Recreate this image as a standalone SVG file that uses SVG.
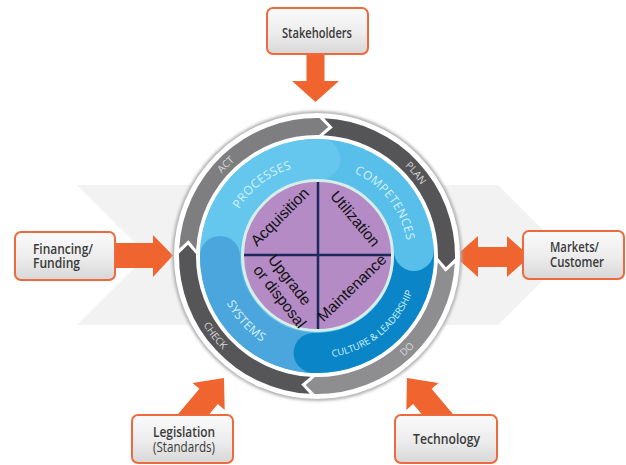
<svg xmlns="http://www.w3.org/2000/svg" xmlns:xlink="http://www.w3.org/1999/xlink" width="626" height="465" viewBox="0 0 626 465">
  <style>
    .box { fill: url(#boxFill); stroke: #ee6a3c; stroke-width: 2; }
    .lbl { font-family: "Open Sans", "Liberation Sans", sans-serif; font-size: 14px; font-weight: 600; fill: #3a3a3a; }
    .lbl.reg { font-weight: 400; }
    .arrow { fill: #f0642f; }
    .zone { font-family: "Open Sans", "Liberation Sans", sans-serif; font-size: 12px; fill: #d6f2fc; letter-spacing: 0.4px; }
    .zone.small { font-size: 9.5px; letter-spacing: 0; }
    .phase { font-family: "Open Sans", "Liberation Sans", sans-serif; font-size: 10px; fill: #d8d8d8; }
    .stage { font-family: "Liberation Sans", Arial, sans-serif; font-size: 15.5px; fill: #111; text-anchor: middle; }
  </style>
  <defs>
    <linearGradient id="boxFill" x1="0" y1="0" x2="0" y2="1">
      <stop offset="0" stop-color="#fbfbfb"/>
      <stop offset="0.55" stop-color="#ececec"/>
      <stop offset="1" stop-color="#d7d7d7"/>
    </linearGradient>
    <filter id="soft" x="-10%" y="-10%" width="120%" height="120%">
      <feGaussianBlur stdDeviation="1.5"/>
    </filter>
    <!-- one quarter of the cycle ring, origin-centred, pointing clockwise -->
    <path id="seg" d="M137.98,2.41 A138,138 0 0 1 2.41,137.98 L-6.78,129.32 L2.11,120.98 A121,121 0 0 0 120.98,2.11 L129.01,11.29 Z"/>
    <path id="pProc" d="M228.16,236.30 A91,91 0 0 1 320.97,165.09"/>
    <path id="pComp" d="M336.31,167.07 A91,91 0 0 1 407.93,259.57"/>
    <path id="pSys" d="M215.10,260.45 A102,102 0 0 0 303.69,357.13"/>
    <path id="pCult" d="M306.34,357.44 A102,102 0 0 0 418.44,266.66"/>
    <path id="pAct" d="M195.29,223.39 A126,126 0 0 1 284.39,134.29"/>
    <path id="pPlan" d="M360.09,137.60 A126,126 0 0 1 441.09,234.12"/>
    <path id="pDo" d="M349.18,385.05 A133,133 0 0 0 444.85,292.66"/>
    <path id="pCheck" d="M185.29,274.51 A133,133 0 0 0 267.18,379.31"/>
  </defs>

  <rect width="626" height="465" fill="#ffffff"/>

  <!-- pale chevron band behind the cycle -->
  <polygon points="77,185 498,185 568,255 498,325 77,325 147,255" fill="#f2f2f2"/>

  <!-- connectors -->
  <g id="connectors">
    <polygon class="arrow" points="306.5,53 324.5,53 324.5,81 339,81 315.5,102 292,81 306.5,81"/>
    <polygon class="arrow" points="112,243 153,243 153,235 173,255.5 153,277 153,268 112,268"/>
    <polygon class="arrow" points="455,256.5 478,236 478,247 507,247 507,236 530,256.5 507,277 507,267 478,267 478,277"/>
    <polygon class="arrow" points="224,378 224.7,409.9 217.8,404.1 193.8,432.7 175.4,417.3 199.4,388.7 192.5,382.9"/>
    <polygon class="arrow" points="407,378 406.3,409.9 413.2,404.1 437.2,432.7 455.6,417.3 431.6,388.7 438.5,382.9"/>
  </g>

  <!-- central cycle -->
  <g id="cycle">
    <circle cx="317" cy="256" r="145" fill="#b0b0b0" filter="url(#soft)"/>
    <circle cx="317" cy="256" r="143" fill="#ffffff"/>
    <use href="#seg" transform="translate(317 256) rotate(2)" fill="#8e8e90"/>
    <use href="#seg" transform="translate(317 256) rotate(92)" fill="#565658"/>
    <use href="#seg" transform="translate(317 256) rotate(182)" fill="#7e7e80"/>
    <use href="#seg" transform="translate(317 256) rotate(272)" fill="#555557"/>
    <text class="phase"><textPath href="#pAct" startOffset="50%" text-anchor="middle">ACT</textPath></text>
    <text class="phase"><textPath href="#pPlan" startOffset="50%" text-anchor="middle">PLAN</textPath></text>
    <text class="phase"><textPath href="#pDo" startOffset="50%" text-anchor="middle">DO</textPath></text>
    <text class="phase"><textPath href="#pCheck" startOffset="50%" text-anchor="middle">CHECK</textPath></text>

    <!-- blue swirl disk -->
    <circle cx="317" cy="256" r="117" fill="#57bfea"/>
    <path d="M200.45,266.20 A117,117 0 0 1 321.08,139.07 L319.69,179.05 A77,77 0 0 0 240.29,262.71 Z" fill="#66c7ee"/>
    <circle cx="320.39" cy="159.06" r="20" fill="#66c7ee"/>
    <path d="M321.08,372.93 A117,117 0 0 1 200,256 L240,256 A77,77 0 0 0 319.69,332.95 Z" fill="#4aa6dd"/>
    <circle cx="220" cy="256" r="20" fill="#4aa6dd"/>
    <path d="M433.84,249.88 A117,117 0 0 1 312.92,372.93 L314.31,332.95 A77,77 0 0 0 393.89,251.97 Z" fill="#0a86c8"/>
    <circle cx="313.61" cy="352.94" r="20" fill="#0a86c8"/>
    <circle cx="413.87" cy="250.92" r="20" fill="#57bfea"/>
    <text class="zone"><textPath href="#pProc" startOffset="50%" text-anchor="middle">PROCESSES</textPath></text>
    <text class="zone"><textPath href="#pComp" startOffset="50%" text-anchor="middle">COMPETENCES</textPath></text>
    <text class="zone"><textPath href="#pSys" startOffset="50%" text-anchor="middle">SYSTEMS</textPath></text>
    <text class="zone small"><textPath href="#pCult" startOffset="50%" text-anchor="middle">CULTURE &amp; LEADERSHIP</textPath></text>

    <!-- asset life-cycle core -->
    <circle cx="317.5" cy="255.5" r="75" fill="#b48bc5" stroke="#d6eee7" stroke-width="3"/>
    <line x1="318" y1="182" x2="318" y2="329" stroke="#1d2a5c" stroke-width="2.5"/>
    <line x1="244" y1="255" x2="391" y2="255" stroke="#1d2a5c" stroke-width="2.5"/>
    <text class="stage" transform="translate(280 217) rotate(-45)" y="5">Acquisition</text>
    <text class="stage" transform="translate(355 219) rotate(50)" y="5">Utilization</text>
    <text class="stage" transform="translate(352 288) rotate(-44)" y="5">Maintenance</text>
    <g transform="translate(289.5 280) rotate(52)">
      <text class="stage" y="5">Upgrade</text>
      <text class="stage" x="7" y="23">or disposal</text>
    </g>
  </g>

  <!-- input nodes -->
  <g id="stakeholders">
    <rect class="box" x="267" y="8" width="101" height="46" rx="6"/>
    <text class="lbl" x="282" y="38" textLength="70" lengthAdjust="spacingAndGlyphs">Stakeholders</text>
  </g>
  <g id="financing">
    <rect class="box" x="15" y="232" width="100" height="48" rx="6"/>
    <text class="lbl" x="33" y="254" textLength="60" lengthAdjust="spacingAndGlyphs">Financing/</text>
    <text class="lbl" x="33" y="268" textLength="47" lengthAdjust="spacingAndGlyphs">Funding</text>
  </g>
  <g id="markets">
    <rect class="box" x="523" y="231" width="101" height="48" rx="6"/>
    <text class="lbl" x="550" y="252" textLength="49" lengthAdjust="spacingAndGlyphs">Markets/</text>
    <text class="lbl" x="550" y="267" textLength="54" lengthAdjust="spacingAndGlyphs">Customer</text>
  </g>
  <g id="legislation">
    <rect class="box" x="132" y="415" width="101" height="48" rx="6"/>
    <text class="lbl" x="153" y="437" textLength="62" lengthAdjust="spacingAndGlyphs">Legislation</text>
    <text class="lbl reg" x="153" y="452" textLength="62" lengthAdjust="spacingAndGlyphs">(Standards)</text>
  </g>
  <g id="technology">
    <rect class="box" x="395" y="415" width="102" height="48" rx="6"/>
    <text class="lbl" x="413" y="444" textLength="67" lengthAdjust="spacingAndGlyphs">Technology</text>
  </g>
</svg>
